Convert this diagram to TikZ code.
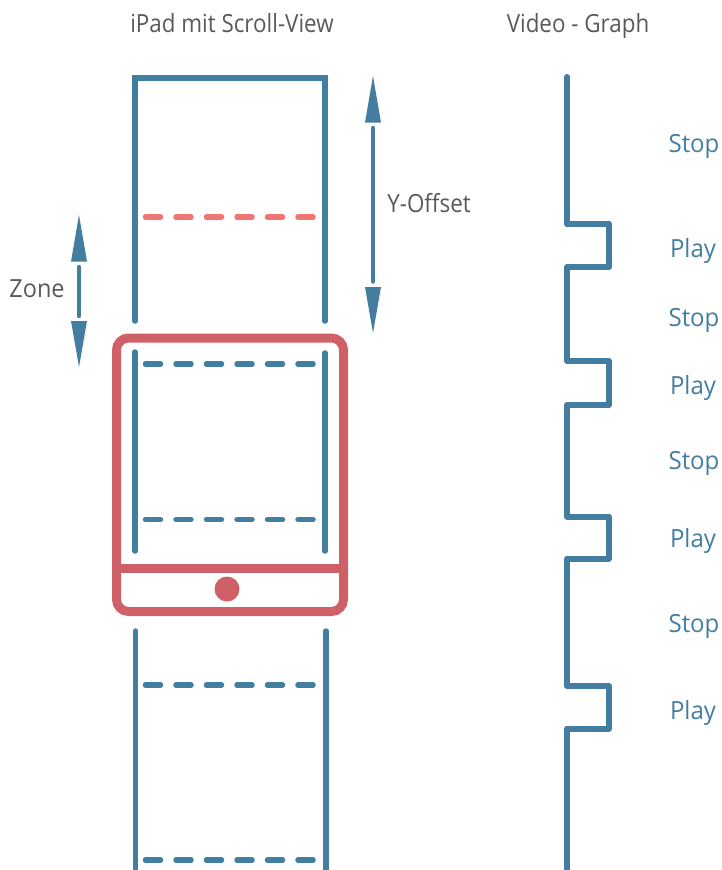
\documentclass[tikz,border=0pt]{standalone}
\usepackage{fontspec}
\setmainfont{Open Sans}
\newfontfamily\titlefont[FakeStretch=0.895]{Open Sans}
\newfontfamily\zonefont[FakeStretch=0.94]{Open Sans}
\newfontfamily\statefont[FakeStretch=0.96]{Open Sans}
\definecolor{bluec}{HTML}{437DA0}
\definecolor{redc}{HTML}{CF6068}
\definecolor{coralc}{HTML}{F07573}
\definecolor{greyc}{HTML}{58595B}
\tikzset{
  frameline/.style={draw=bluec,line width=5.5pt,line cap=round},
  dashline/.style={frameline,dash pattern=on 15pt off 15.5pt},
  graphline/.style={draw=bluec,line width=6pt,line cap=round,line join=round},
  shaft/.style={draw=bluec,line width=4.5pt,line cap=round},
  tipfill/.style={fill=bluec},
  device/.style={draw=redc,line width=9pt},
  graytext/.style={text=greyc,inner sep=0pt,anchor=base,font=\titlefont\fontsize{25}{25}\selectfont},
  zonetext/.style={text=greyc,inner sep=0pt,anchor=base,font=\zonefont\fontsize{25}{25}\selectfont},
  bluetext/.style={text=bluec,inner sep=0pt,anchor=base,font=\statefont\fontsize{25}{25}\selectfont},
}
\begin{document}
\begin{tikzpicture}[x=1pt,y=-1pt]
\useasboundingbox (0,0) rectangle (722,870);
% titles
\node[graytext] (t1) at (232,32) {iPad mit Scroll-View};
\node[graytext] (t2) at (578,32) {Video - Graph};
\node[zonetext] (zone) at (37,297) {Zone};
\node[graytext] (yoff) at (429,212) {Y-Offset};
% frame
\draw[frameline,line join=miter] (135,321) -- (135,78) -- (325,78) -- (325,321);
\draw[frameline] (135,352) -- (135,551);
\draw[frameline] (325,353) -- (325,551);
\draw[frameline] (135.5,631) -- (135.5,875);
\draw[frameline] (326,631) -- (326,875);
% dashes
\draw[dashline,draw=coralc] (145.5,217) -- (314,217);
\foreach \yy in {364,519.5,685,860}
  \draw[dashline] (145.5,\yy) -- (314,\yy);
% device
\draw[device,rounded corners=12pt] (116.5,338) rectangle (343.5,611.5);
\draw[device] (116.5,568.5) -- (343.5,568.5);
\fill[redc] (227,589) circle (12.5);
% Zone arrow
\coordinate (za) at (79,215); \coordinate (zb) at (79,367);
\fill[tipfill] (za) -- (87,261.5) -- (71,261.5) -- cycle;
\draw[shaft] (79,267) -- (79,316);
\fill[tipfill] (zb) -- (87,321) -- (71,321) -- cycle;
% Y-offset arrow
\coordinate (ya) at (373,76); \coordinate (yb) at (373,333);
\fill[tipfill] (ya) -- (381,122.5) -- (365,122.5) -- cycle;
\draw[shaft] (373,128) -- (373,281.5);
\fill[tipfill] (yb) -- (381,287) -- (365,287) -- cycle;
% graph
\draw[graphline] (567,77) -- (567,224) -- (609,224) -- (609,267) -- (567,267)
  -- (567,361) -- (609,361) -- (609,405) -- (567,405)
  -- (567,516.5) -- (609,516.5) -- (609,558.5) -- (567,558.5)
  -- (567,686) -- (609,686) -- (609,728.5) -- (567,728.5) -- (567,875);
% labels
\node[bluetext] (s1) at (694,152) {Stop};
\node[bluetext] (p1) at (693,257) {Play};
\node[bluetext] (s2) at (694,326) {Stop};
\node[bluetext] (p2) at (693,394) {Play};
\node[bluetext] (s3) at (694,469.5) {Stop};
\node[bluetext] (p3) at (693,547) {Play};
\node[bluetext] (s4) at (694,632) {Stop};
\node[bluetext] (p4) at (693,719) {Play};
\end{tikzpicture}
\end{document}
